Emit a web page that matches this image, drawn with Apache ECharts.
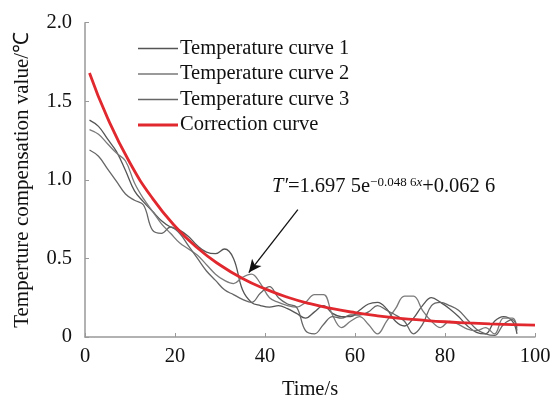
<!DOCTYPE html>
<html>
<head>
<meta charset="utf-8">
<script src="https://cdn.jsdelivr.net/npm/echarts@6/dist/echarts.min.js"></script>
<style>html,body{margin:0;padding:0;background:#fff;}#c{width:554px;height:405px;}</style>
</head>
<body>
<div id="c"></div>
<script>
// Data
var seriesNames = ['Temperature curve 1', 'Temperature curve 2', 'Temperature curve 3', 'Correction curve'];
var grayTimes = [1,3,5,7,9,11,13,15,17,19,21,23,25,27,29,31,33,35,37,39,41,43,45,47,49,51,53,55,57,59,61,63,65,67,69,71,73,75,77,79,81,83,85,87,89,91,93,95,96];
var curve1 = [1.38,1.34,1.26,1.18,1.06,0.93,0.86,0.80,0.74,0.70,0.68,0.64,0.58,0.54,0.53,0.56,0.50,0.30,0.22,0.20,0.19,0.20,0.18,0.15,0.12,0.16,0.20,0.15,0.13,0.13,0.17,0.21,0.22,0.18,0.10,0.07,0.12,0.20,0.25,0.22,0.18,0.13,0.07,0.03,0.02,0.10,0.13,0.10,0.02];
var curve2 = [1.32,1.29,1.23,1.17,1.12,0.98,0.88,0.80,0.72,0.66,0.60,0.56,0.52,0.46,0.40,0.36,0.34,0.38,0.40,0.34,0.25,0.22,0.20,0.19,0.22,0.27,0.27,0.14,0.06,0.10,0.13,0.08,0.02,0.10,0.18,0.26,0.26,0.17,0.10,0.06,0.10,0.08,0.05,0.04,0.06,0.02,0.12,0.12,0.06];
var curve3 = [1.19,1.15,1.07,0.99,0.91,0.87,0.84,0.68,0.66,0.70,0.66,0.58,0.50,0.42,0.36,0.30,0.27,0.24,0.22,0.28,0.32,0.25,0.21,0.19,0.04,0.02,0.08,0.13,0.12,0.14,0.14,0.16,0.20,0.17,0.14,0.10,0.02,0.08,0.20,0.22,0.20,0.17,0.11,0.05,0.02,0.01,0.08,0.11,0.04];
var corrTimes = [1,5,10,15,20,25,30,35,40,45,50,55,60,65,70,75,80,85,90,95,100];
var corrValues = [1.680,1.394,1.107,0.882,0.705,0.566,0.458,0.372,0.306,0.253,0.212,0.180,0.155,0.135,0.119,0.107,0.097,0.090,0.084,0.079,0.076];
var arrowFrom = [47.3, 0.81];
var arrowTo = [36.4, 0.41];

function pairs(xs, ys) { return xs.map(function (x, i) { return [x, ys[i]]; }); }

var FONT = '"Liberation Serif", "Times New Roman", serif';
var chart = echarts.init(document.getElementById('c'), null, {renderer: 'canvas'});
var grayCols = ['#555555', '#7a7a7a', '#666666'];
var grayData = [curve1, curve2, curve3];
// legend icons: a thin bar (gray) or thicker bar (red) inside a fixed 40x10 box
var thinIcon = 'path://M0,0 L0.01,0 L0,0.01 Z M0,4.3 H40 V5.7 H0 Z M40,10 L39.99,10 L40,9.99 Z';
var thickIcon = 'path://M0,0 L0.01,0 L0,0.01 Z M0,3.5 H40 V6.5 H0 Z M40,10 L39.99,10 L40,9.99 Z';
var series = grayData.map(function (d, i) {
  return {
    name: seriesNames[i], type: 'line', data: pairs(grayTimes, d), smooth: 0.4,
    symbol: 'none', lineStyle: {color: grayCols[i], width: 1.3}, itemStyle: {color: grayCols[i]}, z: 2
  };
});
series.push({
  name: seriesNames[3], type: 'line', data: pairs(corrTimes, corrValues), smooth: true,
  symbol: 'none', lineStyle: {color: '#e0282e', width: 2.8}, itemStyle: {color: '#e0282e'}, z: 3,
  markLine: {
    silent: true, symbol: ['none', 'arrow'], symbolSize: [9, 13],
    lineStyle: {color: '#111', width: 1.3, type: 'solid'}, label: {show: false},
    data: [[{coord: arrowFrom}, {coord: arrowTo}]]
  }
});

chart.setOption({
  animation: false,
  backgroundColor: '#fff',
  grid: {left: 85, right: 19, top: 22.7, bottom: 63, containLabel: false},
  legend: {
    orient: 'vertical', left: 133, top: 33, itemWidth: 40, itemHeight: 10, itemGap: 4.5,
    data: seriesNames.map(function (n, i) {
      return {name: n, icon: i === 3 ? thickIcon : thinIcon,
        itemStyle: {color: i === 3 ? '#e0282e' : grayCols[i], borderWidth: 0}};
    }),
    textStyle: {fontFamily: FONT, fontSize: 20.5, color: '#111', padding: [0, 0, 0, -3]}
  },
  xAxis: {
    type: 'value', min: 0, max: 100, interval: 20,
    name: 'Time/s', nameLocation: 'middle', nameGap: 42,
    nameTextStyle: {fontFamily: FONT, fontSize: 20.5, color: '#111'},
    axisLine: {lineStyle: {color: '#999', width: 1.5}},
    axisTick: {show: true, inside: true, length: 4, lineStyle: {color: '#999'}},
    axisLabel: {fontFamily: FONT, fontSize: 20.5, color: '#111', margin: 9},
    splitLine: {show: false}
  },
  yAxis: {
    type: 'value', min: 0, max: 2.0, interval: 0.5,
    name: 'Temperture compensation value/\u2103', nameLocation: 'middle', nameGap: 52,
    nameTextStyle: {fontFamily: FONT, fontSize: 21, color: '#111'},
    axisLine: {show: true, lineStyle: {color: '#999', width: 1.5}},
    axisTick: {show: true, inside: true, length: 4, lineStyle: {color: '#999'}},
    axisLabel: {fontFamily: FONT, fontSize: 20.5, color: '#111', margin: 13,
      formatter: function (v) { return v === 0 ? '0' : v.toFixed(1); }},
    splitLine: {show: false}
  },
  graphic: [{
    type: 'text', left: 272, top: 176, z: 10,
    style: {
      text: '{it|T\u2032}=1.697 5e{sup|\u22120.048 6}{supit|x}+0.062 6',
      fontFamily: FONT, fontSize: 20.5, fill: '#111',
      rich: {
        it: {fontFamily: FONT, fontSize: 20.5, fontStyle: 'italic', fill: '#111'},
        sup: {fontFamily: FONT, fontSize: 13, verticalAlign: 'top', fill: '#111'},
        supit: {fontFamily: FONT, fontSize: 13, fontStyle: 'italic', verticalAlign: 'top', fill: '#111'}
      }
    }
  }],
  series: series
});
</script>
</body>
</html>
